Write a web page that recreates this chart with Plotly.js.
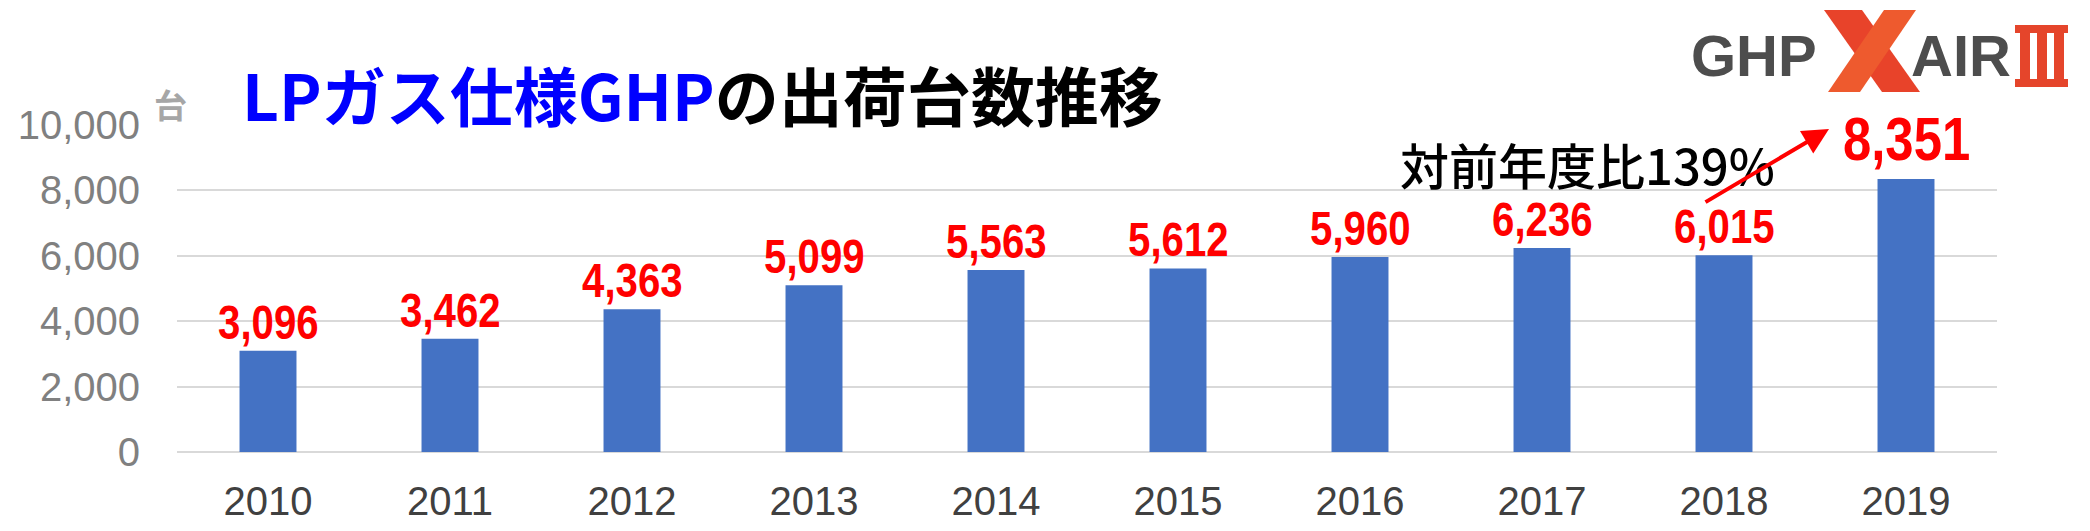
<!DOCTYPE html>
<html>
<head>
<meta charset="utf-8">
<script src="https://cdn.plot.ly/plotly-3.0.1.min.js"></script>
<style>
  html, body { margin: 0; padding: 0; background: #ffffff; }
  #chart { width: 2090px; height: 531px; }
</style>
</head>
<body>
<div id="chart"></div>
<script>
// LP gas GHP shipments per year (units)
const years = ['2010', '2011', '2012', '2013', '2014', '2015', '2016', '2017', '2018', '2019'];
const units = [3096, 3462, 4363, 5099, 5563, 5612, 5960, 6236, 6015, 8351];
const yTicks = [0, 2000, 4000, 6000, 8000, 10000];
const growthNote = '対前年度比139%';
const unitLabel = '台';

// Plot frame in page pixels, used to place decorations in paper space
const W = 2090, H = 531;
const PL = 177, PR = 1997, PT = 125, PB = 452;
const fx = x => (x - PL) / (PR - PL);
const fy = y => (PB - y) / (PB - PT);

const SANS = 'Liberation Sans, Arial, sans-serif';
const CJK = 'Noto Sans CJK JP, sans-serif';
// horizontal squeeze giving the value labels a condensed look
const NARROW_SCALE = 0.82;

const bars = {
  type: 'bar',
  x: years,
  y: units,
  width: 0.313,
  marker: { color: '#4472C4' },
  hoverinfo: 'x+y'
};

// Value labels above each bar (category axis positions are serial indices);
// the latest year is emphasised
const last = units.length - 1;
const valueLabels = units.map((v, i) => ({
  x: i,
  y: v,
  xref: 'x',
  yref: 'y',
  text: '<b>' + v.toLocaleString('en-US') + '</b>',
  showarrow: false,
  yanchor: 'bottom',
  yshift: i === last ? 4 : 0,
  font: { family: SANS, size: i === last ? 62 : 49, color: '#FF0000' }
}));

const annotations = valueLabels.concat([
  // chart title
  {
    xref: 'paper', yref: 'paper', x: fx(702), y: fy(93),
    xanchor: 'center', yanchor: 'middle', showarrow: false,
    text: '<b><span style="color:#0000FF">LPガス仕様GHP</span>の出荷台数推移</b>',
    font: { family: CJK, size: 64, color: '#000000' }
  },
  // unit label of the value axis
  {
    xref: 'paper', yref: 'paper', x: fx(170), y: fy(104),
    xanchor: 'center', yanchor: 'middle', showarrow: false,
    text: '<b>' + unitLabel + '</b>',
    font: { family: CJK, size: 33, color: '#A6A6A6' }
  },
  // year-on-year growth note
  {
    xref: 'paper', yref: 'paper', x: fx(1587), y: fy(163),
    xanchor: 'center', yanchor: 'middle', showarrow: false,
    text: growthNote,
    font: { family: CJK, size: 49, color: '#000000', weight: 500 }
  },
  // arrow from the 2018 label up to the 2019 label
  {
    xref: 'paper', yref: 'paper', axref: 'paper', ayref: 'paper',
    x: fx(1829), y: fy(129), ax: fx(1704), ay: fy(203),
    text: '', showarrow: true,
    arrowhead: 2, arrowsize: 1.3, arrowwidth: 4, arrowcolor: '#FF0000'
  },
  // product logo lettering
  {
    xref: 'paper', yref: 'paper', x: fx(1754), y: fy(55),
    xanchor: 'center', yanchor: 'middle', showarrow: false,
    text: '<b>GHP</b>',
    font: { family: SANS, size: 58, color: '#4D4D4D' }
  },
  {
    xref: 'paper', yref: 'paper', x: fx(1961), y: fy(55),
    xanchor: 'center', yanchor: 'middle', showarrow: false,
    text: '<b>AIR</b>',
    font: { family: SANS, size: 58, color: '#4D4D4D' }
  }
]);

// Logo glyphs drawn as shapes: the large X and the Roman numeral III
const red3 = '#E5452B';
const rect = (x0, y0, x1, y1) => ({
  type: 'rect', xref: 'paper', yref: 'paper',
  x0: fx(x0), x1: fx(x1), y0: fy(y1), y1: fy(y0),
  fillcolor: red3, line: { width: 0 }, layer: 'above'
});
const poly = (pts, color) => ({
  type: 'path', xref: 'paper', yref: 'paper',
  path: 'M' + pts.map(p => fx(p[0]) + ',' + fy(p[1])).join(' L') + ' Z',
  fillcolor: color, line: { width: 0 }, layer: 'above'
});
const shapes = [
  // X: falling stroke then rising stroke
  poly([[1824, 10], [1862, 10], [1920, 92], [1882, 92]], '#E8432A'),
  poly([[1884, 10], [1916, 10], [1860, 92], [1828, 92]], '#EE5A2E'),
  // III
  rect(2015, 25, 2068, 33),
  rect(2015, 79, 2068, 87),
  rect(2020, 33, 2030, 79),
  rect(2037, 33, 2047, 79),
  rect(2054, 33, 2064, 79)
];

const layout = {
  width: W,
  height: H,
  margin: { l: PL, r: W - PR, t: PT, b: H - PB, pad: 0 },
  paper_bgcolor: '#FFFFFF',
  plot_bgcolor: '#FFFFFF',
  showlegend: false,
  bargap: 0.687,
  xaxis: {
    type: 'category',
    categoryorder: 'array',
    categoryarray: years,
    range: [-0.5, years.length - 0.5],
    showgrid: false,
    showline: false,
    zeroline: false,
    ticks: '',
    ticklabelstandoff: 22,
    tickfont: { family: SANS, size: 40, color: '#404040' }
  },
  yaxis: {
    range: [0, 10000],
    tickvals: yTicks,
    tickformat: ',d',
    showgrid: true,
    gridcolor: '#D9D9D9',
    gridwidth: 2,
    zeroline: true,
    zerolinecolor: '#D9D9D9',
    zerolinewidth: 2,
    showline: false,
    ticks: '',
    ticklabelstandoff: 36,
    tickfont: { family: SANS, size: 40, color: '#808080' }
  },
  annotations: annotations,
  shapes: shapes
};

// Squeeze the value labels horizontally around their own centres
function condenseValueLabels(gd) {
  gd.querySelectorAll('.annotation').forEach(g => {
    const idx = Number(g.getAttribute('data-index'));
    if (!(idx >= 0 && idx < units.length)) return;
    const t = g.querySelector('text.annotation-text');
    if (!t) return;
    const bb = t.getBBox();
    const cx = bb.x + bb.width / 2;
    t.setAttribute('transform',
      'translate(' + (cx * (1 - NARROW_SCALE)) + ',0) scale(' + NARROW_SCALE + ',1)');
  });
}

const gd = document.getElementById('chart');
Plotly.newPlot(gd, [bars], layout, { displayModeBar: false, staticPlot: true })
  .then(() => condenseValueLabels(gd));
</script>
</body>
</html>
